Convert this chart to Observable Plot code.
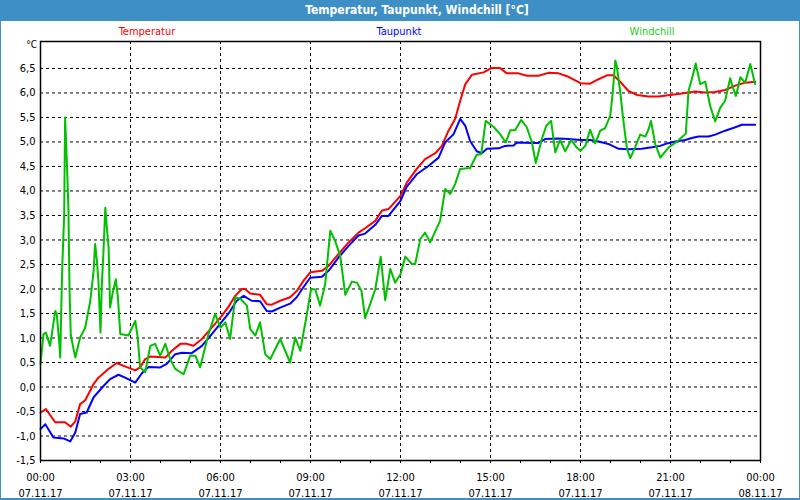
<!DOCTYPE html>
<html>
<head>
<meta charset="utf-8">
<script src="https://cdn.jsdelivr.net/npm/d3@7"></script>
<script src="https://cdn.jsdelivr.net/npm/@observablehq/plot@0.6"></script>
<style>
  html, body { margin: 0; padding: 0; background: #fff; }
  #wrap { position: relative; width: 800px; height: 500px; overflow: hidden; background: #fff;
          font-family: "DejaVu Sans Condensed", "DejaVu Sans", sans-serif; }
  #border { position: absolute; left: 0; top: 0; width: 800px; height: 500px; box-sizing: border-box;
            border: 1px solid #3d8fc6; border-bottom-width: 2px; pointer-events: none; }
  #titlebar { position: absolute; left: 0; top: 0; width: 800px; height: 21px; background: #3d8fc6; }
  #title { position: absolute; left: 417px; top: 0; transform: translateX(-50%); white-space: nowrap;
           color: #fff; font-weight: bold; font-size: 12px; line-height: 21px; }
  .leg { position: absolute; top: 25px; transform: translateX(-50%); font-size: 11px; line-height: 14px; white-space: nowrap; }
  #unit { position: absolute; right: 763px; top: 39px; font-size: 10px; line-height: 12px; color: #000; }
  #chart { position: absolute; left: 0; top: 20px; }
</style>
</head>
<body>
<div id="wrap">
  <div id="titlebar"></div>
  <div id="title"></div>
  <div id="legend"></div>
  <div id="unit"></div>
  <div id="chart"></div>
  <div id="border"></div>
</div>
<script>
// ---- Data (hours since 07.11.17 00:00, °C) ----
const titleText = "Temperatur, Taupunkt, Windchill [°C]";
const unitText = "°C";
const seriesNames = ["Temperatur", "Taupunkt", "Windchill"];
const seriesColors = ["#ff0000", "#0000ff", "#00c000"];
const legendColors = ["#ff0000", "#0000ff", "#22cc22"];
const legendCenters = [147, 399, 652];

const temperatur = [[0.0,-0.52],[0.18,-0.45],[0.49,-0.72],[0.82,-0.72],[1.01,-0.81],[1.16,-0.70],[1.32,-0.35],[1.49,-0.27],[1.77,0.06],[1.93,0.19],[2.27,0.37],[2.54,0.49],[2.77,0.43],[3.16,0.34],[3.32,0.40],[3.49,0.57],[3.66,0.62],[4.16,0.60],[4.38,0.74],[4.66,0.88],[4.88,0.88],[5.10,0.84],[5.38,0.98],[5.71,1.21],[6.04,1.45],[6.27,1.64],[6.49,1.86],[6.71,2.0],[6.82,2.0],[6.99,1.91],[7.32,1.88],[7.54,1.69],[7.71,1.68],[7.99,1.76],[8.32,1.83],[8.54,1.96],[8.77,2.17],[8.99,2.34],[9.38,2.37],[9.6,2.47],[9.93,2.71],[10.27,2.95],[10.6,3.15],[10.82,3.24],[11.16,3.39],[11.38,3.6],[11.6,3.63],[12.0,3.9],[12.21,4.17],[12.54,4.45],[12.82,4.65],[13.16,4.77],[13.38,4.92],[13.6,5.23],[13.82,5.47],[13.99,5.84],[14.16,6.18],[14.38,6.37],[14.77,6.42],[15.04,6.51],[15.32,6.51],[15.54,6.4],[15.93,6.4],[16.21,6.35],[16.6,6.35],[16.93,6.41],[17.27,6.4],[17.6,6.33],[18.0,6.2],[18.32,6.19],[18.6,6.28],[18.88,6.36],[19.1,6.36],[19.32,6.23],[19.6,6.04],[19.88,5.96],[20.27,5.93],[20.6,5.93],[20.99,5.96],[21.38,5.99],[21.82,6.03],[22.16,6.01],[22.49,6.02],[22.82,6.06],[23.16,6.15],[23.49,6.21],[23.82,6.23]];

const taupunkt = [[0.0,-0.86],[0.16,-0.76],[0.43,-1.03],[0.77,-1.05],[0.99,-1.11],[1.16,-0.93],[1.32,-0.55],[1.54,-0.52],[1.77,-0.21],[2.1,0.02],[2.32,0.16],[2.6,0.25],[2.82,0.19],[3.16,0.09],[3.38,0.28],[3.6,0.41],[3.99,0.40],[4.21,0.47],[4.49,0.67],[4.71,0.70],[5.04,0.69],[5.38,0.84],[5.71,1.08],[6.0,1.30],[6.27,1.5],[6.54,1.76],[6.77,1.86],[7.04,1.76],[7.32,1.75],[7.54,1.55],[7.71,1.54],[7.99,1.62],[8.32,1.70],[8.54,1.83],[8.77,2.04],[8.99,2.23],[9.38,2.25],[9.6,2.37],[9.93,2.64],[10.27,2.88],[10.6,3.09],[10.82,3.13],[11.16,3.31],[11.38,3.49],[11.6,3.49],[12.0,3.8],[12.21,4.09],[12.54,4.34],[12.93,4.51],[13.27,4.68],[13.49,4.99],[13.77,5.16],[13.99,5.47],[14.16,5.33],[14.32,5.02],[14.54,4.81],[14.71,4.77],[14.88,4.86],[15.27,4.87],[15.49,4.92],[15.77,4.93],[15.88,4.99],[16.38,4.98],[16.6,4.98],[16.82,5.06],[17.27,5.07],[17.6,5.06],[18.0,5.04],[18.32,5.04],[18.6,5.01],[18.93,4.96],[19.27,4.86],[19.6,4.85],[20.04,4.86],[20.38,4.89],[20.66,4.92],[20.88,4.97],[21.16,5.01],[21.49,5.04],[21.71,5.08],[21.93,5.11],[22.27,5.11],[22.49,5.15],[22.82,5.23],[23.16,5.30],[23.38,5.35],[23.82,5.35]];

const windchill = [[0.0,0.47],[0.1,1.08],[0.18,1.11],[0.32,0.84],[0.49,1.55],[0.54,1.5],[0.62,0.94],[0.66,0.6],[0.69,1.55],[0.73,2.54],[0.79,3.53],[0.82,5.5],[0.88,4.58],[0.93,3.66],[0.97,1.93],[1.01,1.05],[1.16,0.6],[1.32,1.01],[1.49,1.21],[1.66,1.76],[1.77,2.37],[1.82,2.92],[1.88,2.58],[1.93,2.17],[2.0,1.11],[2.04,2.03],[2.1,2.78],[2.16,3.66],[2.21,3.26],[2.27,2.85],[2.32,1.62],[2.4,1.9],[2.51,2.2],[2.58,1.83],[2.66,1.08],[2.93,1.05],[3.16,1.35],[3.24,1.01],[3.32,0.4],[3.49,0.3],[3.66,0.84],[3.82,0.88],[3.99,0.64],[4.16,0.88],[4.32,0.57],[4.49,0.37],[4.77,0.26],[4.99,0.64],[5.16,0.64],[5.32,0.4],[5.6,1.08],[5.82,1.49],[6.0,1.21],[6.16,1.32],[6.32,0.98],[6.49,1.83],[6.66,1.8],[6.88,1.66],[6.99,1.18],[7.16,1.05],[7.32,1.32],[7.49,0.67],[7.66,0.57],[7.99,0.98],[8.32,0.5],[8.49,1.01],[8.66,0.74],[8.88,1.49],[9.02,2.0],[9.16,1.99],[9.32,1.66],[9.49,2.1],[9.66,3.19],[9.82,2.98],[9.99,2.68],[10.16,1.88],[10.38,2.15],[10.55,2.13],[10.7,1.96],[10.82,1.41],[10.99,1.69],[11.16,2.0],[11.34,2.66],[11.49,1.77],[11.66,2.41],[11.82,2.13],[12.0,2.3],[12.16,2.66],[12.38,2.51],[12.49,2.51],[12.66,3.02],[12.82,3.15],[12.99,2.95],[13.32,3.39],[13.49,4.04],[13.66,3.94],[13.82,4.14],[13.99,4.45],[14.32,4.47],[14.54,4.74],[14.69,4.75],[14.84,5.43],[15.1,5.31],[15.32,5.16],[15.51,4.99],[15.66,5.24],[15.82,5.24],[16.02,5.45],[16.21,5.3],[16.38,4.99],[16.51,4.57],[16.71,5.06],[16.86,5.33],[17.02,5.43],[17.16,4.79],[17.32,5.04],[17.49,4.81],[17.69,5.04],[17.88,4.88],[18.0,4.82],[18.16,4.92],[18.32,5.25],[18.49,4.97],[18.66,5.23],[18.82,5.28],[18.99,5.53],[19.07,5.98],[19.16,6.66],[19.21,6.55],[19.32,6.04],[19.43,5.43],[19.55,4.86],[19.66,4.67],[19.82,4.89],[19.99,5.15],[20.16,5.11],[20.27,5.26],[20.35,5.43],[20.49,4.96],[20.66,4.68],[20.94,4.89],[21.22,5.01],[21.51,5.17],[21.6,6.04],[21.71,6.28],[21.84,6.6],[21.99,6.18],[22.16,6.23],[22.32,5.74],[22.49,5.42],[22.66,5.7],[22.82,5.84],[22.99,6.3],[23.07,6.13],[23.18,5.94],[23.33,6.32],[23.49,6.21],[23.66,6.59],[23.82,6.18]];

const xTicks = [0, 3, 6, 9, 12, 15, 18, 21, 24];
const xTickLabels = ["00:00\n07.11.17","03:00\n07.11.17","06:00\n07.11.17","09:00\n07.11.17","12:00\n07.11.17","15:00\n07.11.17","18:00\n07.11.17","21:00\n07.11.17","00:00\n08.11.17"];
const hourTicks = d3.range(0, 25, 1);
const yTicks = [-1.5,-1.0,-0.5,0.0,0.5,1.0,1.5,2.0,2.5,3.0,3.5,4.0,4.5,5.0,5.5,6.0,6.5];
const yTickLabels = yTicks.map(v => v.toFixed(1).replace(".", ","));

// ---- HTML text ----
document.getElementById("title").textContent = titleText;
document.getElementById("unit").textContent = unitText;
const legend = document.getElementById("legend");
seriesNames.forEach((n, i) => {
  const s = document.createElement("div");
  s.className = "leg";
  s.style.left = legendCenters[i] + "px";
  s.style.color = legendColors[i];
  s.textContent = n;
  legend.appendChild(s);
});

// ---- Plot ----
const grid = {stroke: "#000", strokeOpacity: 1, strokeWidth: 1, strokeDasharray: "3,3"};
const chart = Plot.plot({
  width: 800,
  height: 480,
  marginTop: 21,
  marginBottom: 40,
  marginLeft: 40,
  marginRight: 40,
  style: {fontFamily: '"DejaVu Sans Condensed", "DejaVu Sans", sans-serif', fontSize: "11px", background: "transparent", color: "#000"},
  x: {type: "linear", domain: [0, 24]},
  y: {domain: [-1.5, 7.05]},
  marks: [
    Plot.gridX({ticks: xTicks, ...grid}),
    Plot.gridY({ticks: yTicks, ...grid}),
    Plot.axisY({ticks: yTicks, tickFormat: (d, i) => yTickLabels[i], tickSize: 0, tickPadding: 5, label: null, fontSize: 11}),
    Plot.axisX({ticks: hourTicks, tickFormat: () => "", tickSize: 3, label: null}),
    Plot.axisX({ticks: xTicks, tickFormat: (d, i) => xTickLabels[i], tickSize: 0, tickPadding: 9, lineHeight: 1.45, label: null, fontSize: 11}),
    Plot.line(temperatur, {x: d => d[0], y: d => d[1], stroke: seriesColors[0], strokeWidth: 2}),
    Plot.line(taupunkt, {x: d => d[0], y: d => d[1], stroke: seriesColors[1], strokeWidth: 2}),
    Plot.line(windchill, {x: d => d[0], y: d => d[1], stroke: seriesColors[2], strokeWidth: 2}),
    Plot.frame({stroke: "#000", strokeWidth: 1.5})
  ]
});
document.getElementById("chart").appendChild(chart);
</script>
</body>
</html>
